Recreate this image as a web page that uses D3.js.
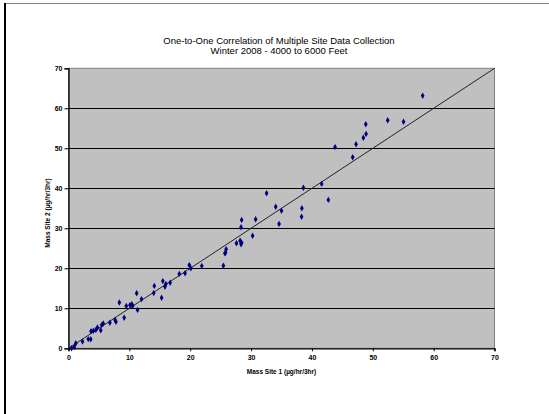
<!DOCTYPE html>
<html>
<head>
<meta charset="utf-8">
<script src="https://cdn.jsdelivr.net/npm/d3@7"></script>
<style>
    body { margin: 0; background: #fff; }
    svg { display: block; }
</style>
</head>
<body>
<svg id="chart" width="549" height="414"></svg>
<script>
// values (mass at site 1 vs site 2)
const site1 = [0.5, 0.95, 1.2, 2.3, 3.25, 3.65, 3.7, 4.1, 4.5, 4.75, 5.3, 5.45, 5.7, 6.8, 7.65, 7.8,
    8.35, 9.15, 9.5, 10.1, 10.4, 10.55, 11.35, 11.2, 12.0, 14.0, 14.1, 15.3, 15.5, 16.0, 15.85, 16.7,
    18.2, 19.15, 19.85, 20.1, 21.9, 25.45, 25.8, 25.9, 25.7, 27.6, 28.2, 28.35, 28.45, 28.35, 28.45,
    30.25, 30.75, 32.55, 34.05, 35.0, 34.6, 38.35, 38.3, 38.6, 41.6, 42.7, 43.8, 46.7, 47.25, 48.45,
    48.9, 48.85, 52.45, 55.05, 58.2]
const site2 = [0, 0.4, 1.25, 1.7, 2.3, 2.25, 4.25, 4.4, 4.6, 5.2, 4.5, 5.8, 6.2, 6.4, 7.1, 6.65,
    11.45, 7.65, 10.6, 10.8, 11.0, 10.6, 9.6, 13.75, 12.3, 13.8, 15.6, 12.65, 16.8, 16.1, 15.4, 16.4,
    18.6, 18.75, 20.8, 20.0, 20.6, 20.65, 23.9, 24.75, 23.75, 26.25, 26.9, 26.0, 26.4, 30.25, 32.1,
    28.15, 32.25, 38.75, 35.4, 34.4, 31.1, 35.0, 32.9, 40.15, 41.1, 37.1, 50.3, 47.75, 51.0, 52.65,
    53.6, 56.0, 57.0, 56.65, 63.15]
const tickVals = [0, 10, 20, 30, 40, 50, 60, 70]
const oneToOne = [0, 70]

const titleLines = ['One-to-One Correlation of Multiple Site Data Collection', 'Winter 2008 - 4000 to 6000 Feet']
const xTitle = 'Mass Site 1 (\u00b5g/hr/3hr)'
const yTitle = 'Mass Site 2 (\u00b5g/hr/3hr)'

const svg = d3.select('#chart')
const plot = { left: 68.5, right: 494.5, top: 68.3, bottom: 348.3 }

const x = d3.scaleLinear().domain([0, 70]).range([plot.left, plot.right])
const y = d3.scaleLinear().domain([0, 70]).range([plot.bottom, plot.top])

// outer frame (only top and left show in the shot)
svg.append('line')
    .attr('x1', 4).attr('y1', 3.5).attr('x2', 549).attr('y2', 3.5)
    .style('stroke', '#808080').style('stroke-width', 1)
svg.append('line')
    .attr('x1', 5).attr('y1', 3).attr('x2', 5).attr('y2', 414)
    .style('stroke', '#000').style('stroke-width', 2)

// plot background
svg.append('rect')
    .attr('x', plot.left).attr('y', plot.top)
    .attr('width', plot.right - plot.left).attr('height', plot.bottom - plot.top)
    .style('fill', '#c0c0c0')
    .style('stroke', '#808080').style('stroke-width', 1)

// gridlines
svg.append('g')
    .selectAll('line')
    .data(tickVals.filter(d => d > 0 && d < 70))
    .join('line')
    .attr('x1', plot.left).attr('x2', plot.right)
    .attr('y1', d => Math.round(y(d)) + 0.5).attr('y2', d => Math.round(y(d)) + 0.5)
    .style('stroke', '#000').style('stroke-width', 1)

// axes
const xAxis = svg.append('g')
    .attr('transform', `translate(0,${plot.bottom})`)
    .call(d3.axisBottom(x).tickValues(tickVals).tickSize(3).tickPadding(4))
const yAxis = svg.append('g')
    .attr('transform', `translate(${plot.left},0)`)
    .call(d3.axisLeft(y).tickValues(tickVals).tickSize(4).tickPadding(2))

for (let ax of [xAxis, yAxis]) {
    ax.select('.domain').style('stroke', '#000').style('stroke-width', 1.3)
    ax.selectAll('.tick line').style('stroke', '#000')
    ax.selectAll('.tick text')
        .style('font-family', 'Liberation Sans, Arial, sans-serif')
        .style('font-size', '7px')
        .style('font-weight', 'bold')
        .style('fill', '#000')
}

// 1:1 line
svg.append('line')
    .attr('x1', x(oneToOne[0])).attr('y1', y(oneToOne[0]))
    .attr('x2', x(oneToOne[1])).attr('y2', y(oneToOne[1]))
    .style('stroke', '#222').style('stroke-width', 1)

// points
const pts = site1.map((v, i) => ({ s1: v, s2: site2[i] }))
svg.append('g')
    .selectAll('path')
    .data(pts)
    .join('path')
    .attr('d', d3.symbol().type(d3.symbolDiamond).size(12))
    .attr('transform', d => `translate(${x(d.s1)},${y(d.s2)})`)
    .style('fill', '#000080')

// titles
svg.append('text')
    .attr('x', 279).attr('y', 44)
    .attr('text-anchor', 'middle')
    .style('font-family', 'Liberation Sans, Arial, sans-serif')
    .style('font-size', '9.5px')
    .selectAll('tspan')
    .data(titleLines)
    .join('tspan')
    .attr('x', 279)
    .attr('dy', (d, i) => i == 0 ? 0 : 10)
    .text(d => d)

svg.append('text')
    .attr('x', (plot.left + plot.right) / 2).attr('y', 374)
    .attr('text-anchor', 'middle')
    .style('font-family', 'Liberation Sans, Arial, sans-serif')
    .style('font-size', '6.5px')
    .style('font-weight', 'bold')
    .text(xTitle)

svg.append('text')
    .attr('transform', `translate(50,213) rotate(-90)`)
    .attr('text-anchor', 'middle')
    .style('font-family', 'Liberation Sans, Arial, sans-serif')
    .style('font-size', '6.5px')
    .style('font-weight', 'bold')
    .text(yTitle)
</script>
</body>
</html>
